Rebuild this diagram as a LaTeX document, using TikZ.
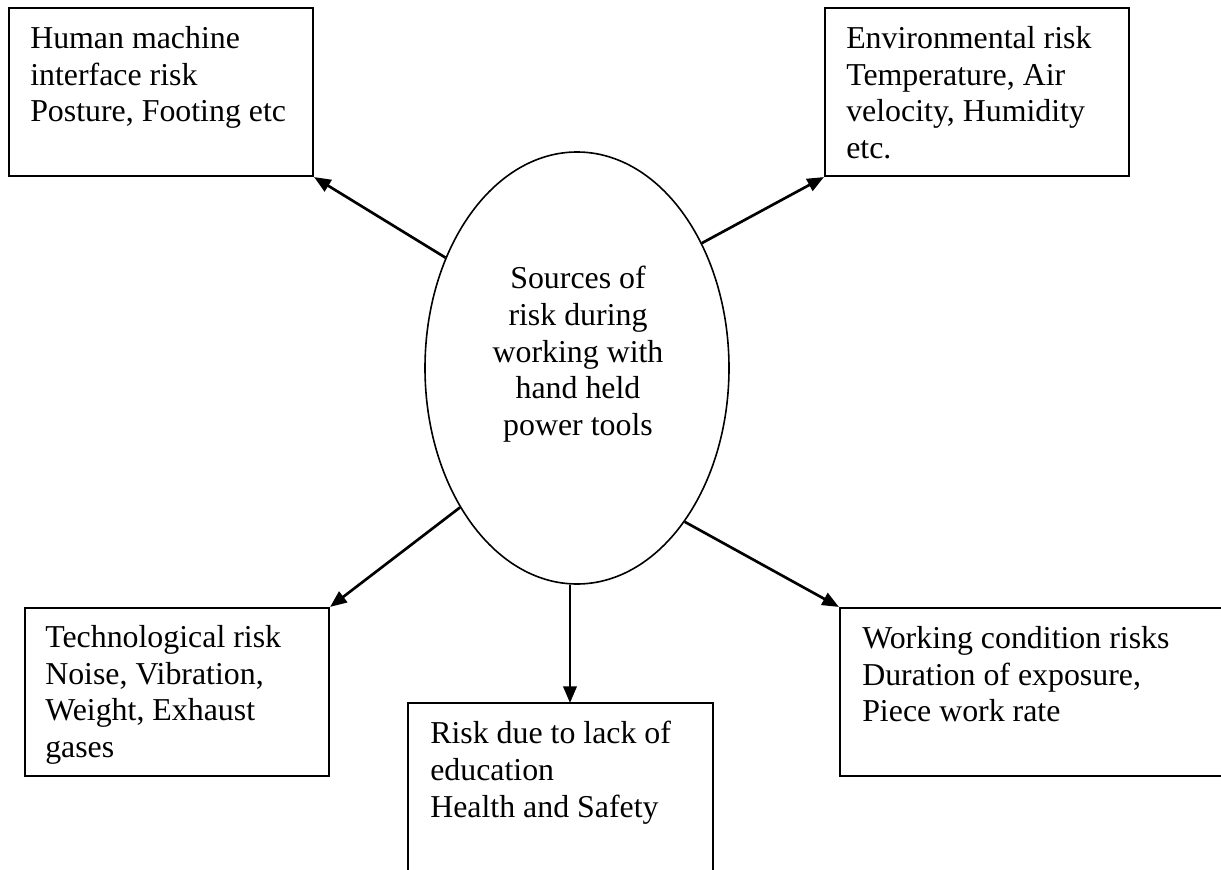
\documentclass[tikz,border=0pt]{standalone}
\usepackage{fontspec}
\setmainfont{Liberation Serif}
\usetikzlibrary{arrows.meta,shapes.geometric}
\begin{document}
\begin{tikzpicture}[x=0.75pt,y=-0.75pt,
  box/.style={draw,line width=1.6pt,rectangle,inner sep=0pt,minimum width=228pt,minimum height=126pt},
  txt/.style={inner sep=0pt,anchor=north west,align=left,font=\fontsize{23.9}{27.5}\selectfont},
  ctxt/.style={inner sep=0pt,anchor=north,align=center,font=\fontsize{23.9}{27.5}\selectfont},
  arr/.style={line width=2pt,-{Triangle[length=12.5pt,width=10pt]}}]
\useasboundingbox (0,0) rectangle (1221,870);
\clip (0,0) rectangle (1221,870);
\fill[white] (0,0) rectangle (1221,870);
% boxes
\node[box] (hmi) at (161,92) {};
\node[box] (env) at (977,92) {};
\node[box] (tech) at (177,692) {};
\node[box,minimum width=229pt,minimum height=150pt] (edu) at (560.5,803) {};
\node[box,minimum width=300pt] (work) at (1040,692) {};
% ellipse
\node[draw,ellipse,line width=1.2pt,inner sep=0pt,minimum width=228pt,minimum height=324pt] (ell) at (577,368) {};
% texts
\node[txt] (hmiT) at (30,26) {Human machine\\interface risk\\Posture, Footing etc};
\node[txt] (envT) at (846,26) {Environmental risk\\Temperature, Air\\velocity, Humidity\\etc.};
\node[ctxt] (ellT) at (578,266) {Sources of\\risk during\\working with\\hand held\\power tools};
\node[txt] (techT) at (45,625) {Technological risk\\Noise, Vibration,\\Weight, Exhaust\\gases};
\node[txt] (eduT) at (430,721) {Risk due to lack of\\education\\Health and Safety};
\node[txt] (workT) at (862,626) {Working condition risks\\Duration of exposure,\\Piece work rate};
% connectors
\coordinate (eduTop) at (570,703);
\draw[arr] (ell.140) -- (hmi.south east);
\draw[arr] (ell.45) -- (env.south west);
\draw[arr] (ell.230) -- (tech.north east);
\draw[arr] (ell.south -| eduTop) -- (eduTop);
\draw[arr] (ell.305) -- (work.north west);
\end{tikzpicture}
\end{document}
